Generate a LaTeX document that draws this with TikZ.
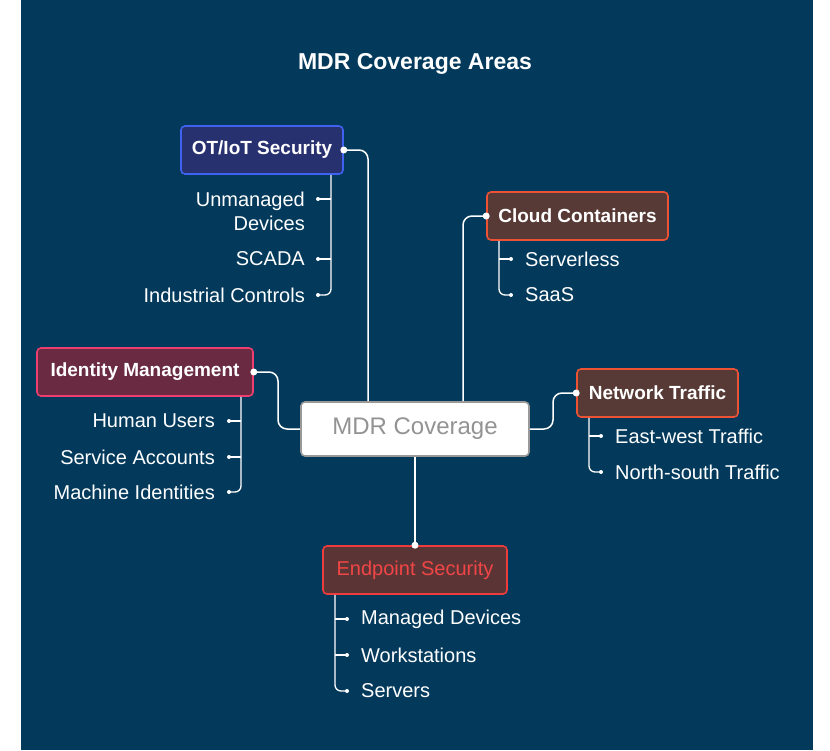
\documentclass[tikz,border=0pt]{standalone}
\usepackage{fontspec}
\setmainfont{Liberation Sans}
\usepackage{xcolor}
\definecolor{bgblue}{HTML}{033A5C}
\definecolor{otfill}{HTML}{28316F}
\definecolor{otline}{HTML}{3F63F0}
\definecolor{brfill}{HTML}{573A36}
\definecolor{brline}{HTML}{EE5235}
\definecolor{idfill}{HTML}{6A2B42}
\definecolor{idline}{HTML}{EC3F70}
\definecolor{epfill}{HTML}{5B3536}
\definecolor{epline}{HTML}{EE3B3B}
\definecolor{eptext}{HTML}{F24545}
\tikzset{
  area/.style={draw, line width=1.6pt, rounded corners=4pt, text=white, inner sep=0pt,
    minimum height=48pt, font=\fontsize{19}{22}\selectfont\bfseries},
  leaf/.style={text=white, inner sep=0pt, font=\fontsize{20}{24}\selectfont},
  link/.style={draw=white, line width=1.5pt, rounded corners=9pt},
  twig/.style={draw=white, line width=1.3pt, rounded corners=6pt},
  bigdot/.style={circle, fill=white, inner sep=0pt, minimum size=7pt},
  dot/.style={circle, fill=white, inner sep=0pt, minimum size=4pt}
}
\begin{document}
\begin{tikzpicture}[x=1pt, y=-1pt]
    \useasboundingbox (0,0) rectangle (830,750);
    \fill[bgblue] (21,0) rectangle (813,750);

    \node (title) at (415,64) [text=white, font=\fontsize{23}{26}\selectfont\bfseries] {MDR Coverage Areas};

    % main nodes
    \node (mdr) at (415,429) [draw=gray!80, line width=1.6pt, fill=white, rounded corners=4pt,
        minimum width=228pt, minimum height=54pt, text=gray!85, font=\fontsize{24}{28}\selectfont] {MDR Coverage};
    \node (ot) at (262,150) [area, fill=otfill, draw=otline, minimum width=162pt] {OT/IoT Security};
    \node (cloud) at (577.5,216) [area, fill=brfill, draw=brline, minimum width=181pt] {Cloud Containers};
    \node (ident) at (145,372) [area, fill=idfill, draw=idline, minimum width=216pt] {Identity Management};
    \node (net) at (657.5,393) [area, fill=brfill, draw=brline, minimum width=161pt] {Network Traffic};
    \node (endp) at (415,570) [area, fill=epfill, draw=epline, minimum width=184pt,
        text=eptext, font=\fontsize{20}{22}\selectfont] {Endpoint Security};

    % links to centre
    \draw[link] (ot.east) -| (mdr.north -| 368,0);
    \draw[link] (cloud.west) -| (mdr.north -| 463,0);
    \draw[link] (ident.east) -| (278,429) -- (mdr.west);
    \draw[link] (mdr.east) -| (553,393) -- (net.west);
    \draw[link] (mdr.south) -- (endp.north);
    \foreach \n/\a in {ot/east, cloud/west, ident/east, net/west, endp/north}
        \node[bigdot] at (\n.\a) {};

    % OT/IoT leaves
    \node (ot1) at (305,211) [leaf, anchor=east, align=right] {Unmanaged\\Devices};
    \node (ot2) at (305,259) [leaf, anchor=east] {SCADA};
    \node (ot3) at (305,295) [leaf, anchor=east] {Industrial Controls};
    \coordinate (otd1) at (318,199);
    \coordinate (otd2) at (318,259);
    \coordinate (otd3) at (318,295);
    \draw[twig] (ot.south -| 331,0) |- (otd3);
    \draw[twig, rounded corners=0pt] (otd1) -- +(13,0) (otd2) -- +(13,0);

    % cloud leaves
    \node (cl1) at (525,259) [leaf, anchor=west] {Serverless};
    \node (cl2) at (525,295) [leaf, anchor=west] {SaaS};
    \coordinate (cld1) at (511,259);
    \coordinate (cld2) at (511,295);
    \draw[twig] (cloud.south -| 499,0) |- (cld2);
    \draw[twig, rounded corners=0pt] (cld1) -- +(-12,0);

    % identity leaves
    \node (id1) at (215,421) [leaf, anchor=east] {Human Users};
    \node (id2) at (215,457) [leaf, anchor=east] {Service Accounts};
    \node (id3) at (215,492) [leaf, anchor=east] {Machine Identities};
    \coordinate (idd1) at (229,421);
    \coordinate (idd2) at (229,457);
    \coordinate (idd3) at (229,492);
    \draw[twig] (ident.south -| 241,0) |- (idd3);
    \draw[twig, rounded corners=0pt] (idd1) -- +(12,0) (idd2) -- +(12,0);

    % network leaves
    \node (nt1) at (615,436) [leaf, anchor=west] {East-west Traffic};
    \node (nt2) at (615,472) [leaf, anchor=west] {North-south Traffic};
    \coordinate (ntd1) at (601,436);
    \coordinate (ntd2) at (601,472);
    \draw[twig] (net.south -| 589,0) |- (ntd2);
    \draw[twig, rounded corners=0pt] (ntd1) -- +(-12,0);

    % endpoint leaves
    \node (ep1) at (361,619) [leaf, anchor=west] {Managed Devices};
    \node (ep2) at (361,655) [leaf, anchor=west] {Workstations};
    \node (ep3) at (361,691) [leaf, anchor=west] {Servers};
    \coordinate (epd1) at (347,619);
    \coordinate (epd2) at (347,655);
    \coordinate (epd3) at (347,691);
    \draw[twig] (endp.south -| 335,0) |- (epd3);
    \draw[twig, rounded corners=0pt] (epd1) -- +(-12,0) (epd2) -- +(-12,0);

    \foreach \d in {otd1,otd2,otd3,cld1,cld2,idd1,idd2,idd3,ntd1,ntd2,epd1,epd2,epd3}
        \node[dot] at (\d) {};
\end{tikzpicture}
\end{document}
